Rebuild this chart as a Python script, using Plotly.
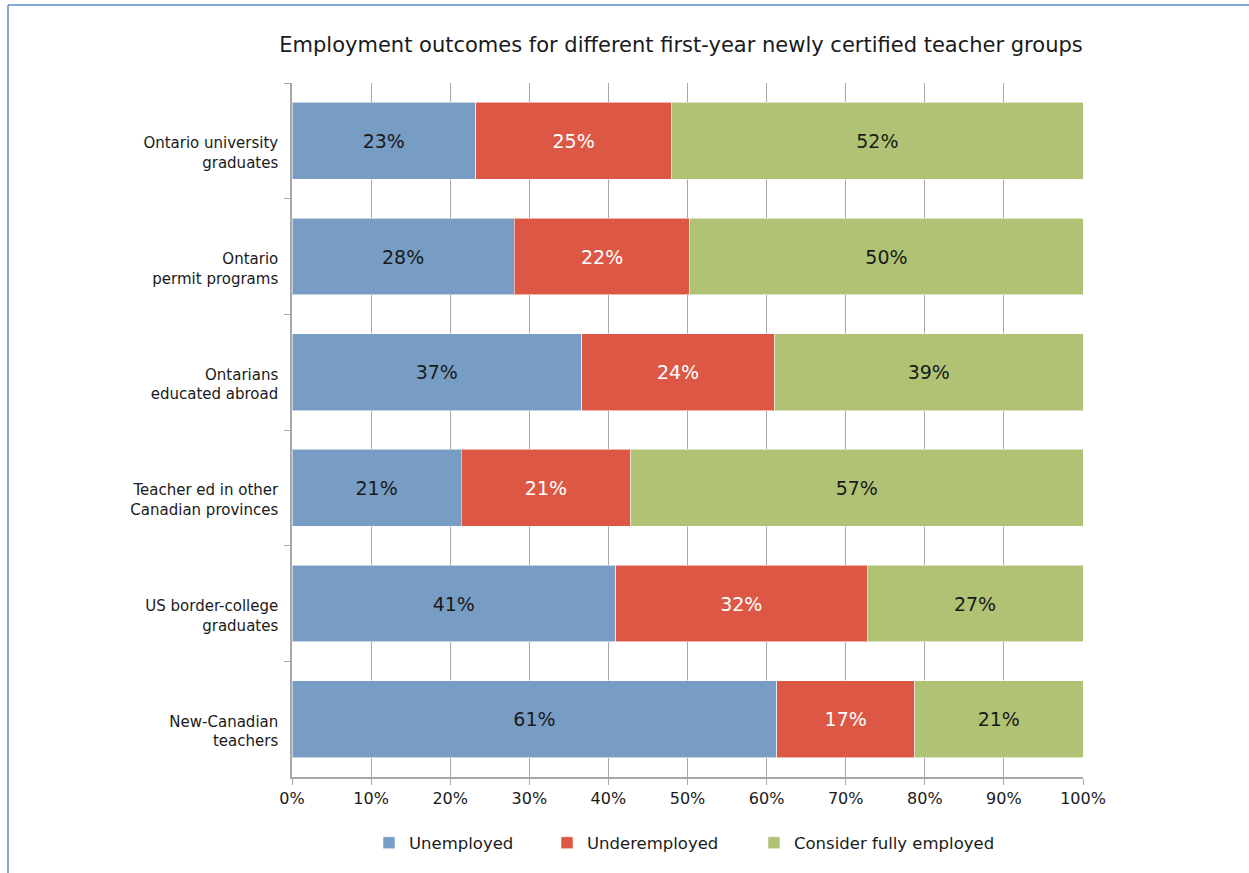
import plotly.graph_objects as go

# Teacher groups (top to bottom) and share of each employment outcome (%)
groups = [
    "Ontario university<br>graduates",
    "Ontario<br>permit programs",
    "Ontarians<br>educated abroad",
    "Teacher ed in other<br>Canadian provinces",
    "US border-college<br>graduates",
    "New-Canadian<br>teachers",
]
unemployed = [23.2, 28.1, 36.6, 21.4, 40.9, 61.3]
underemployed = [24.8, 22.2, 24.4, 21.4, 31.8, 17.4]
fully_employed = [52.0, 49.7, 39.0, 57.2, 27.3, 21.3]

series_names = ["Unemployed", "Underemployed", "Consider fully employed"]
series_colors = ["#789DC4", "#DC5845", "#B0C375"]
label_colors = ["#1a1a1a", "#ffffff", "#1a1a1a"]

x_ticks = list(range(0, 101, 10))
x_tick_labels = [f"{t}%" for t in x_ticks]

FONT = "DejaVu Sans"

# plot-area geometry in pixels, used to place the legends and frame
PL, PW, PB, PH = 292, 791, 777, 694
legend_x_px = [369, 547, 754]
legend_ids = ["legend", "legend2", "legend3"]

fig = go.Figure()
for name, vals, col, lc, lid in zip(series_names,
                                    [unemployed, underemployed, fully_employed],
                                    series_colors, label_colors, legend_ids):
    fig.add_trace(go.Bar(
        y=groups, x=vals, name=name, orientation="h", legend=lid,
        marker=dict(color=col, line=dict(color="rgba(255,255,255,0.55)", width=1)),
        texttemplate="%{x:.0f}%", textposition="inside",
        insidetextanchor="middle",
        textfont=dict(family=FONT, size=19, color=lc),
        constraintext="none",
    ))

# Outer frame lines (left and top)
frame_x = (8 - PL) / PW
frame_y = (PB - 5) / PH
fig.add_shape(type="line", xref="paper", yref="paper",
              x0=frame_x, x1=frame_x, y0=frame_y, y1=-0.2,
              line=dict(color="#5B8BC9", width=1.5))
fig.add_shape(type="line", xref="paper", yref="paper",
              x0=frame_x, x1=1.3, y0=frame_y, y1=frame_y,
              line=dict(color="#5B8BC9", width=1.5))

legend_style = dict(orientation="h", xanchor="left", y=(PB - 843) / PH, yanchor="middle",
                    font=dict(family=FONT, size=16.5, color="#1a1a1a"),
                    bgcolor="rgba(0,0,0,0)")

fig.update_layout(
    width=1249, height=873,
    barmode="stack", bargap=0.335,
    paper_bgcolor="white", plot_bgcolor="white",
    margin=dict(l=PL, r=1249 - PL - PW, t=83, b=873 - PB),
    font=dict(family=FONT, size=15, color="#1a1a1a"),
    title=dict(text="Employment outcomes for different first-year newly certified teacher groups",
               x=681 / 1249, xanchor="center", y=1 - 45 / 873, yanchor="middle",
               font=dict(family=FONT, size=21, color="#1a1a1a")),
    showlegend=True,
    legend=dict(legend_style, x=(legend_x_px[0] - PL) / PW),
    legend2=dict(legend_style, x=(legend_x_px[1] - PL) / PW),
    legend3=dict(legend_style, x=(legend_x_px[2] - PL) / PW),
)

fig.update_xaxes(
    range=[0, 100], tickvals=x_ticks, ticktext=x_tick_labels,
    showgrid=True, gridcolor="#A8A8A8", gridwidth=1,
    showline=True, linecolor="#A8A8A8", linewidth=1.5,
    ticks="outside", ticklen=6, tickcolor="#A8A8A8",
    tickfont=dict(family=FONT, size=16, color="#1a1a1a"),
    layer="above traces", zeroline=False, fixedrange=True,
)
fig.update_yaxes(
    categoryorder="array", categoryarray=groups, autorange="reversed",
    showline=True, linecolor="#A8A8A8", linewidth=1.5,
    ticks="outside", ticklen=6, tickcolor="#A8A8A8", tickson="boundaries",
    tickfont=dict(family=FONT, size=15, color="#1a1a1a"),
    ticklabelstandoff=9, ticklabelshift=-12,
    showgrid=False, layer="above traces",
)

fig.write_html("out.html")
